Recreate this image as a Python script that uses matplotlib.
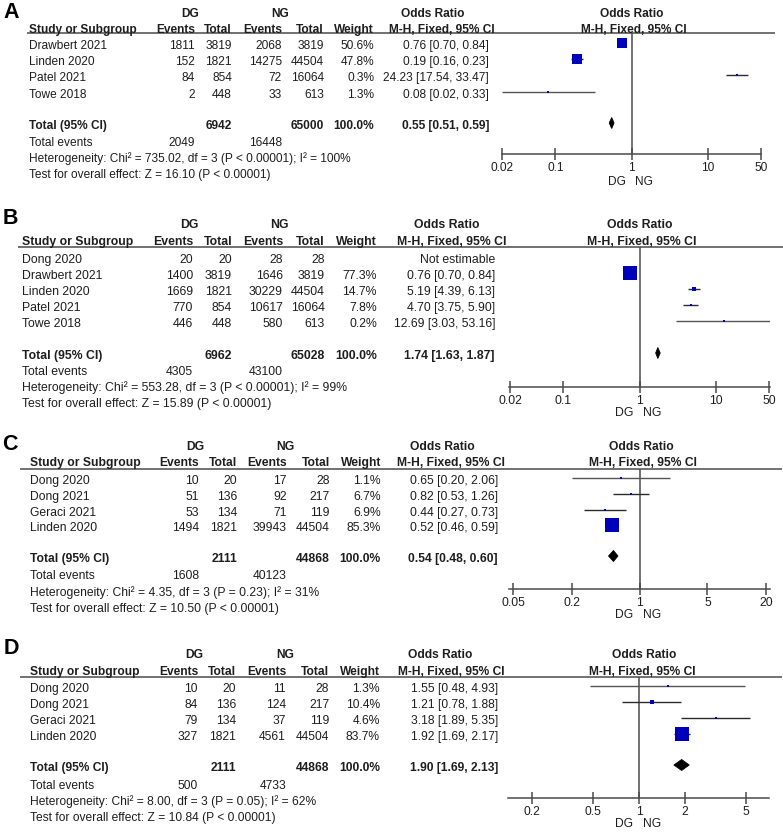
import matplotlib
matplotlib.use('Agg')
import matplotlib.pyplot as plt
from matplotlib.ticker import NullLocator
from matplotlib.patches import Polygon

plt.rcParams['font.family'] = ['Liberation Sans', 'DejaVu Sans']

# ---------------- data ----------------
studies_A = ["Drawbert 2021", "Linden 2020", "Patel 2021", "Towe 2018"]
dg_events_A = [1811, 152, 84, 2]
dg_total_A = [3819, 1821, 854, 448]
ng_events_A = [2068, 14275, 72, 33]
ng_total_A = [3819, 44504, 16064, 613]
weight_A = [50.6, 47.8, 0.3, 1.3]
or_A = [0.76, 0.19, 24.23, 0.08]
lo_A = [0.70, 0.16, 17.54, 0.02]
hi_A = [0.84, 0.23, 33.47, 0.33]
totals_A = [6942, 65000]
tot_events_A = [2049, 16448]
pooled_A = [0.55, 0.51, 0.59]
het_A = "Heterogeneity: Chi² = 735.02, df = 3 (P < 0.00001); I² = 100%"
test_A = "Test for overall effect: Z = 16.10 (P < 0.00001)"
ticks_A = [0.02, 0.1, 1, 10, 50]
ticklabels_A = ["0.02", "0.1", "1", "10", "50"]

studies_B = ["Dong 2020", "Drawbert 2021", "Linden 2020", "Patel 2021", "Towe 2018"]
dg_events_B = [20, 1400, 1669, 770, 446]
dg_total_B = [20, 3819, 1821, 854, 448]
ng_events_B = [28, 1646, 30229, 10617, 580]
ng_total_B = [28, 3819, 44504, 16064, 613]
weight_B = [None, 77.3, 14.7, 7.8, 0.2]
or_B = [None, 0.76, 5.19, 4.70, 12.69]
lo_B = [None, 0.70, 4.39, 3.75, 3.03]
hi_B = [None, 0.84, 6.13, 5.90, 53.16]
totals_B = [6962, 65028]
tot_events_B = [4305, 43100]
pooled_B = [1.74, 1.63, 1.87]
het_B = "Heterogeneity: Chi² = 553.28, df = 3 (P < 0.00001); I² = 99%"
test_B = "Test for overall effect: Z = 15.89 (P < 0.00001)"
ticks_B = [0.02, 0.1, 1, 10, 50]
ticklabels_B = ["0.02", "0.1", "1", "10", "50"]

studies_C = ["Dong 2020", "Dong 2021", "Geraci 2021", "Linden 2020"]
dg_events_C = [10, 51, 53, 1494]
dg_total_C = [20, 136, 134, 1821]
ng_events_C = [17, 92, 71, 39943]
ng_total_C = [28, 217, 119, 44504]
weight_C = [1.1, 6.7, 6.9, 85.3]
or_C = [0.65, 0.82, 0.44, 0.52]
lo_C = [0.20, 0.53, 0.27, 0.46]
hi_C = [2.06, 1.26, 0.73, 0.59]
totals_C = [2111, 44868]
tot_events_C = [1608, 40123]
pooled_C = [0.54, 0.48, 0.60]
het_C = "Heterogeneity: Chi² = 4.35, df = 3 (P = 0.23); I² = 31%"
test_C = "Test for overall effect: Z = 10.50 (P < 0.00001)"
ticks_C = [0.05, 0.2, 1, 5, 20]
ticklabels_C = ["0.05", "0.2", "1", "5", "20"]

studies_D = ["Dong 2020", "Dong 2021", "Geraci 2021", "Linden 2020"]
dg_events_D = [10, 84, 79, 327]
dg_total_D = [20, 136, 134, 1821]
ng_events_D = [11, 124, 37, 4561]
ng_total_D = [28, 217, 119, 44504]
weight_D = [1.3, 10.4, 4.6, 83.7]
or_D = [1.55, 1.21, 3.18, 1.92]
lo_D = [0.48, 0.78, 1.89, 1.69]
hi_D = [4.93, 1.88, 5.35, 2.17]
totals_D = [2111, 44868]
tot_events_D = [500, 4733]
pooled_D = [1.90, 1.69, 2.13]
het_D = "Heterogeneity: Chi² = 8.00, df = 3 (P = 0.05); I² = 62%"
test_D = "Test for overall effect: Z = 10.84 (P < 0.00001)"
ticks_D = [0.2, 0.5, 1, 2, 5]
ticklabels_D = ["0.2", "0.5", "1", "2", "5"]

# ---------------- layout (pixels) ----------------
W, H = 783, 832
TXT = '#1e1e1e'
LINE = '#4a4a4a'
SQ = '#0000bb'

fig = plt.figure(figsize=(W / 100, H / 100), dpi=100)
tax = fig.add_axes([0, 0, 1, 1])
tax.set_xlim(0, W)
tax.set_ylim(H, 0)
tax.axis('off')

layouts = {
    'A': dict(lab=(11, 12), h1=14, h2=30, ul=33, ulx=(27, 775),
              rows=[46, 62, 78, 95], tot=126, ev=143, het=159, test=175,
              cols=[29, 195, 232, 282, 324, 374, 489],
              dgc=190, ngc=280, orc=433, mhc=442, rorc=632, rmhc=634,
              fx=(502, 761), c=631.5, s=76.2, ay=154, dgng=182, fs=8.6),
    'B': dict(lab=(10, 219), h1=225, h2=242, ul=247, ulx=(18, 783),
              rows=[260, 276, 292, 308, 324], tot=356, ev=372, het=388, test=404,
              cols=[22, 193, 232, 283, 325, 377, 495],
              dgc=189, ngc=279, orc=447, mhc=452, rorc=640, rmhc=642,
              fx=(509, 770), c=639.5, s=76.2, ay=387, dgng=413, fs=8.85),
    'C': dict(lab=(10, 445), h1=447, h2=463, ul=469, ulx=(20, 782),
              rows=[481, 497, 513, 528], tot=559, ev=576, het=593, test=609,
              cols=[30, 199, 237, 287, 330, 381, 498],
              dgc=195, ngc=285, orc=442, mhc=451, rorc=641, rmhc=643,
              fx=(509, 770), c=639.5, s=97.2, ay=589, dgng=615, fs=8.7),
    'D': dict(lab=(11, 648), h1=655, h2=672, ul=677, ulx=(20, 782),
              rows=[689, 705, 721, 737], tot=768, ev=786, het=802, test=818,
              cols=[30, 198, 236, 286, 329, 380, 498],
              dgc=194, ngc=285, orc=440, mhc=451, rorc=644, rmhc=642,
              fx=(508, 769), c=639, s=153.0, ay=798, dgng=824, fs=8.65),
}


def txt(x, y, s, fs, ha='left', bold=False):
    tax.text(x, y, s, fontsize=fs, ha=ha, va='center', color=TXT,
             fontweight='bold' if bold else 'normal')


def panel(key, studies, dge, dgt, nge, ngt, wts, ors, los, his,
          totals, tot_events, pooled, het, test, ticks, ticklabels):
    L = layouts[key]
    fs = L['fs']
    cols = L['cols']
    tax.text(L['lab'][0], L['lab'][1], key, fontsize=15.5, ha='center', va='center',
             color='black', fontweight='bold', fontfamily=['Liberation Sans'])
    # headers
    txt(L['dgc'], L['h1'], 'DG', fs, 'center', True)
    txt(L['ngc'], L['h1'], 'NG', fs, 'center', True)
    txt(L['orc'], L['h1'], 'Odds Ratio', fs, 'center', True)
    txt(L['rorc'], L['h1'], 'Odds Ratio', fs, 'center', True)
    txt(cols[0], L['h2'], 'Study or Subgroup', fs, 'left', True)
    txt(cols[1], L['h2'], 'Events', fs, 'right', True)
    txt(cols[2], L['h2'], 'Total', fs, 'right', True)
    txt(cols[3], L['h2'], 'Events', fs, 'right', True)
    txt(cols[4], L['h2'], 'Total', fs, 'right', True)
    txt(cols[5], L['h2'], 'Weight', fs, 'right', True)
    txt(L['mhc'], L['h2'], 'M-H, Fixed, 95% CI', fs, 'center', True)
    txt(L['rmhc'], L['h2'], 'M-H, Fixed, 95% CI', fs, 'center', True)
    tax.plot(L['ulx'], [L['ul'], L['ul']], color=LINE, lw=1.1, solid_capstyle='butt')

    # study rows
    for i, name in enumerate(studies):
        y = L['rows'][i]
        txt(cols[0], y, name, fs)
        txt(cols[1], y, str(dge[i]), fs, 'right')
        txt(cols[2], y, str(dgt[i]), fs, 'right')
        txt(cols[3], y, str(nge[i]), fs, 'right')
        txt(cols[4], y, str(ngt[i]), fs, 'right')
        if wts[i] is None:
            txt(cols[6], y, 'Not estimable', fs, 'right')
        else:
            txt(cols[5], y, f'{wts[i]:.1f}%', fs, 'right')
            txt(cols[6], y, f'{ors[i]:.2f} [{los[i]:.2f}, {his[i]:.2f}]', fs, 'right')

    # totals
    txt(cols[0], L['tot'], 'Total (95% CI)', fs, 'left', True)
    txt(cols[2], L['tot'], str(totals[0]), fs, 'right', True)
    txt(cols[4], L['tot'], str(totals[1]), fs, 'right', True)
    txt(cols[5], L['tot'], '100.0%', fs, 'right', True)
    txt(cols[6], L['tot'], f'{pooled[0]:.2f} [{pooled[1]:.2f}, {pooled[2]:.2f}]', fs, 'right', True)
    txt(cols[0], L['ev'], 'Total events', fs)
    txt(cols[1], L['ev'], str(tot_events[0]), fs, 'right')
    txt(cols[3], L['ev'], str(tot_events[1]), fs, 'right')
    txt(cols[0], L['het'], het, fs)
    txt(cols[0], L['test'], test, fs)

    # forest axes
    x0, x1 = L['fx']
    c, s = L['c'], L['s']
    ytop, ybot = L['ul'], L['ay']
    ax = fig.add_axes([x0 / W, 1 - ybot / H, (x1 - x0) / W, (ybot - ytop) / H])
    ax.set_xscale('log')
    ax.set_xlim(10 ** ((x0 - c) / s), 10 ** ((x1 - c) / s))
    ax.set_ylim(ybot, ytop)
    ax.patch.set_alpha(0)
    for sp in ['top', 'left', 'right']:
        ax.spines[sp].set_visible(False)
    ax.spines['bottom'].set_color(LINE)
    ax.spines['bottom'].set_linewidth(1.1)
    ax.set_yticks([])
    ax.set_xticks(ticks)
    ax.set_xticklabels(ticklabels)
    ax.xaxis.set_minor_locator(NullLocator())
    ax.tick_params(axis='x', direction='inout', length=8, width=1.1, color=LINE,
                   pad=2, labelsize=fs, labelcolor=TXT)
    ax.axvline(1, color=LINE, lw=1.1)

    for i in range(len(studies)):
        if wts[i] is None:
            continue
        y = L['rows'][i] - 3
        lc = '#2a2a2a' if his[i] / los[i] < 10 else '#555555'
        ax.plot([los[i], his[i]], [y, y], color=lc, lw=1.0, solid_capstyle='butt')
        side = max(2.0, 0.52 * wts[i] ** 0.75)
        ax.plot([ors[i]], [y], marker='s', markersize=side * 0.72, color=SQ,
                markeredgewidth=0, linestyle='none')

    yd = L['tot'] - 3
    est, lo, hi = pooled
    ax.add_patch(Polygon([(lo, yd), (est, yd - 5.5), (hi, yd), (est, yd + 5.5)],
                         closed=True, facecolor='black', edgecolor='black', lw=0.6))

    tax.text(c - 6, L['dgng'], 'DG', fontsize=fs, ha='right', va='center', color=TXT)
    tax.text(c + 4, L['dgng'], 'NG', fontsize=fs, ha='left', va='center', color=TXT)


panel('A', studies_A, dg_events_A, dg_total_A, ng_events_A, ng_total_A, weight_A,
      or_A, lo_A, hi_A, totals_A, tot_events_A, pooled_A, het_A, test_A, ticks_A, ticklabels_A)
panel('B', studies_B, dg_events_B, dg_total_B, ng_events_B, ng_total_B, weight_B,
      or_B, lo_B, hi_B, totals_B, tot_events_B, pooled_B, het_B, test_B, ticks_B, ticklabels_B)
panel('C', studies_C, dg_events_C, dg_total_C, ng_events_C, ng_total_C, weight_C,
      or_C, lo_C, hi_C, totals_C, tot_events_C, pooled_C, het_C, test_C, ticks_C, ticklabels_C)
panel('D', studies_D, dg_events_D, dg_total_D, ng_events_D, ng_total_D, weight_D,
      or_D, lo_D, hi_D, totals_D, tot_events_D, pooled_D, het_D, test_D, ticks_D, ticklabels_D)

fig.savefig('out.png', dpi=100)
